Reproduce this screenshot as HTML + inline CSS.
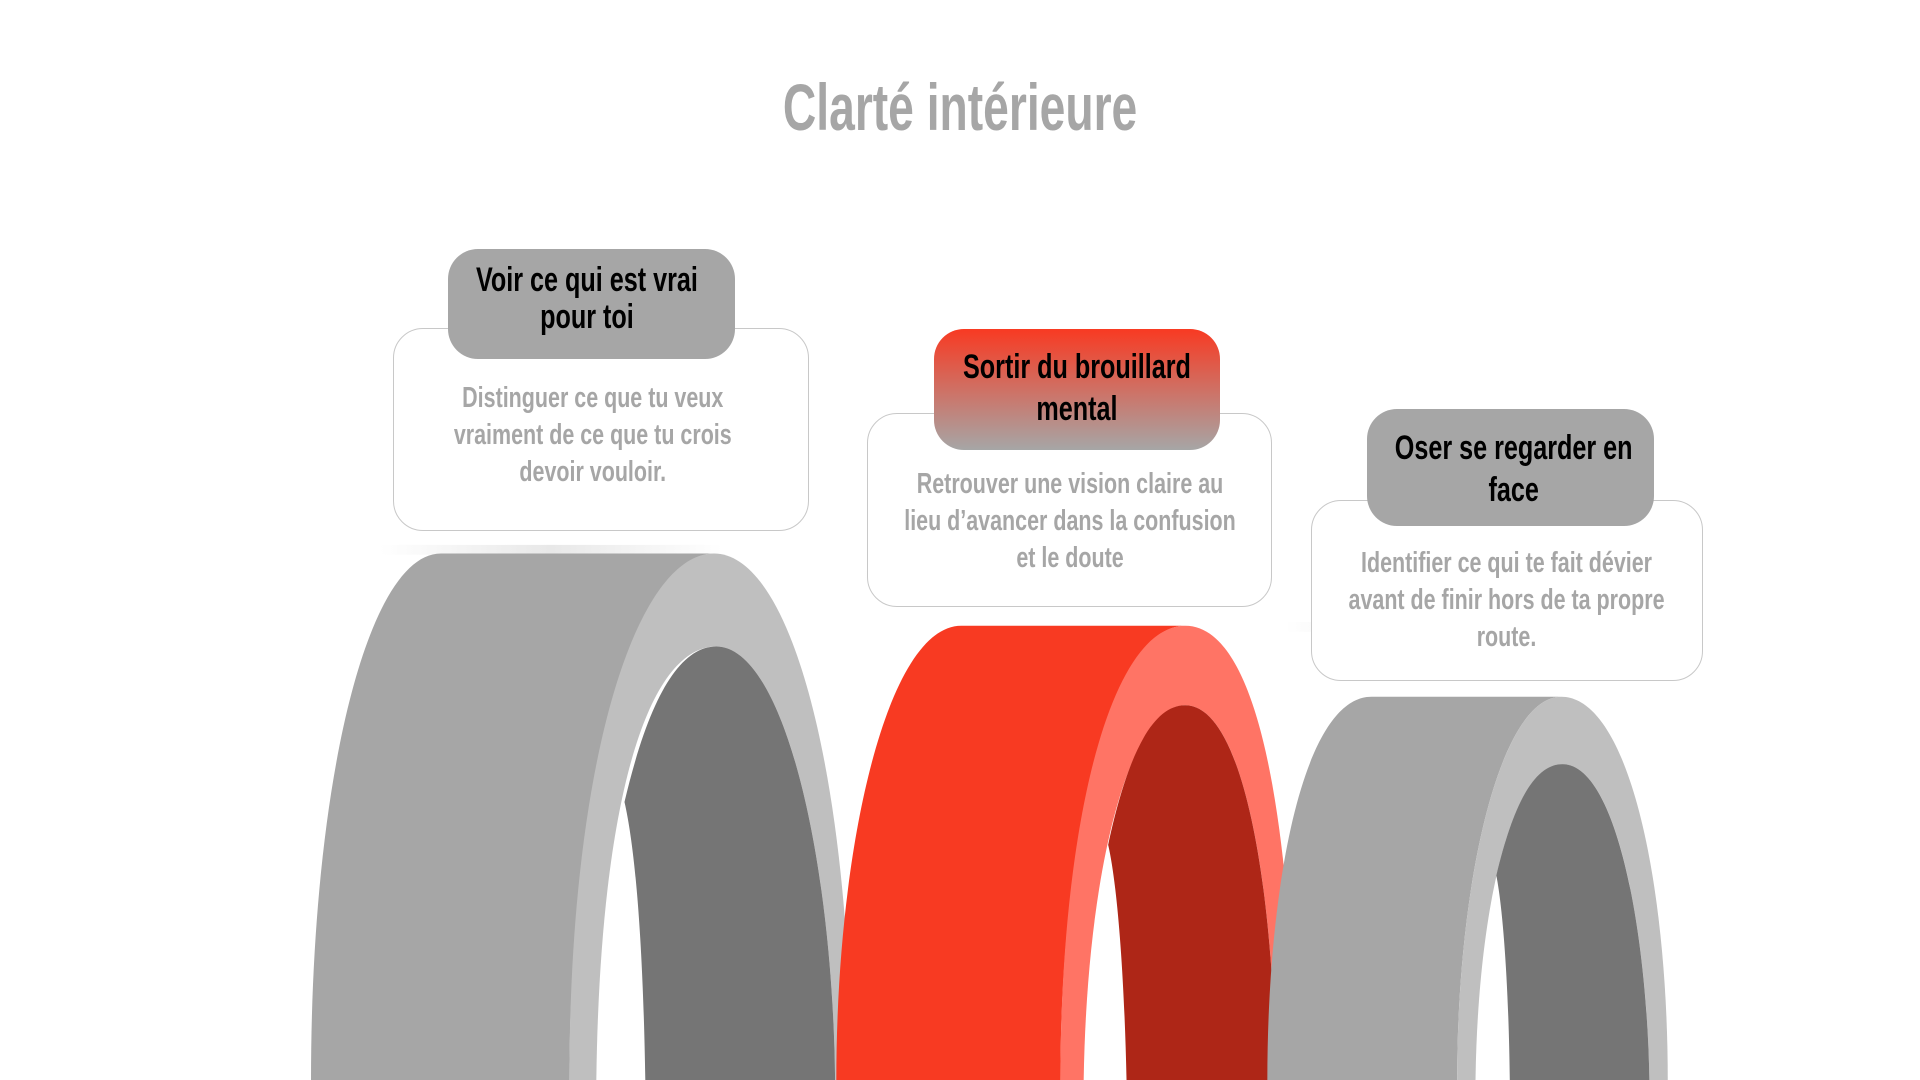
<!DOCTYPE html>
<html><head><meta charset="utf-8"><style>
html,body{margin:0;padding:0;background:#fff;}
body{width:1920px;height:1080px;position:relative;overflow:hidden;font-family:"Liberation Sans Narrow","Liberation Sans",sans-serif;font-weight:bold;}
.abs{position:absolute;}
.box{position:absolute;background:#fff;border:1px solid #c8c8c8;border-radius:30px;box-sizing:border-box;}
.tab{position:absolute;border-radius:30px;background:#a6a6a6;}
.t{position:absolute;left:0;width:100%;display:flex;justify-content:center;text-align:center;white-space:nowrap;}
.t span{display:block;flex:none;transform:scaleX(.74);}
.tt{color:#000;font-size:34px;}
.bt{color:#a6a6a6;font-size:29px;}
</style></head><body>
<svg class="abs" style="left:0;top:0" width="1920" height="1080" viewBox="0 0 1568 882">
<defs>
<linearGradient id="sh" x1="0" x2="1"><stop offset="0" stop-color="#fff"/><stop offset=".5" stop-color="#e8e8e8"/><stop offset="1" stop-color="#fff"/></linearGradient>
</defs>
<rect x="310" y="445" width="280" height="8" fill="url(#sh)"/>
<rect x="705" y="466" width="240" height="8" fill="url(#sh)"/>
<rect x="1050" y="508" width="240" height="8" fill="url(#sh)"/>
<!-- arch1 -->
<path d="M254,882 C254,640 300,452 360,452 L583,452 C520,452 465,650 465,882 Z" fill="#a6a6a6"/>
<path d="M465,882 C465,620 520,452 583,452 C650,452 695,650 695,882 Z" fill="#bfbfbf"/>
<path d="M487,882 C490,650 530,528 585,528 C640,528 680,700 682,882 Z" fill="#fff"/>
<path d="M527,882 C525,760 518,690 510,655 C530,570 555,528 585,528 C640,528 680,700 682,882 Z" fill="#757575"/>
<!-- arch2 -->
<path d="M683,882 C683,690 725,511 785,511 L968,511 C905,511 866,690 866,882 Z" fill="#f83a22"/>
<path d="M866,882 C866,680 905,511 968,511 C1030,511 1055,680 1058,882 Z" fill="#ff7465"/>
<path d="M885,882 C888,700 925,576 968,576 C1015,576 1040,720 1042,882 Z" fill="#fff"/>
<path d="M920,882 C918,790 912,720 905,690 C920,620 940,576 968,576 C1015,576 1040,720 1042,882 Z" fill="#ae2617"/>
<!-- arch3 -->
<path d="M1035,882 C1035,720 1065,569 1120,569 L1275,569 C1225,569 1190,720 1190,882 Z" fill="#a6a6a6"/>
<path d="M1190,882 C1190,720 1225,569 1275,569 C1330,569 1362,720 1362,882 Z" fill="#bfbfbf"/>
<path d="M1205,882 C1207,740 1235,624 1276,624 C1320,624 1345,760 1347,882 Z" fill="#fff"/>
<path d="M1233,882 C1232,800 1227,740 1222,715 C1235,660 1252,624 1276,624 C1320,624 1345,760 1347,882 Z" fill="#757575"/>
</svg>

<div class="t" style="top:62px;font-size:66px;color:#a6a6a6;line-height:90px;"><span style="transform:scaleX(.7)">Clarté intérieure</span></div>

<div class="box" style="left:393px;top:328px;width:416px;height:203px;"></div>
<div class="tab" style="left:448px;top:249px;width:287px;height:110px;"></div>
<div class="abs" style="left:443px;top:262px;width:287px;">
<div class="t tt" style="position:relative;line-height:37px;"><span>Voir ce qui est vrai<br>pour toi</span></div></div>
<div class="abs" style="left:385px;top:380px;width:416px;">
<div class="t bt" style="position:relative;line-height:37px;"><span>Distinguer ce que tu veux<br>vraiment de ce que tu crois<br>devoir vouloir.</span></div></div>

<div class="box" style="left:867px;top:413px;width:405px;height:194px;"></div>
<div class="tab" style="left:934px;top:329px;width:286px;height:121px;background:linear-gradient(#f83a22,#a6a6a6);"></div>
<div class="abs" style="left:934px;top:346px;width:286px;">
<div class="t tt" style="position:relative;line-height:42px;"><span>Sortir du brouillard<br>mental</span></div></div>
<div class="abs" style="left:867px;top:466px;width:405px;">
<div class="t bt" style="position:relative;line-height:37px;"><span>Retrouver une vision claire au<br>lieu d’avancer dans la confusion<br>et le doute</span></div></div>

<div class="box" style="left:1311px;top:500px;width:392px;height:181px;"></div>
<div class="tab" style="left:1367px;top:409px;width:287px;height:117px;"></div>
<div class="abs" style="left:1370px;top:427px;width:287px;">
<div class="t tt" style="position:relative;line-height:42px;"><span>Oser se regarder en<br>face</span></div></div>
<div class="abs" style="left:1311px;top:545px;width:392px;">
<div class="t bt" style="position:relative;line-height:37px;"><span>Identifier ce qui te fait dévier<br>avant de finir hors de ta propre<br>route.</span></div></div>
</body></html>
